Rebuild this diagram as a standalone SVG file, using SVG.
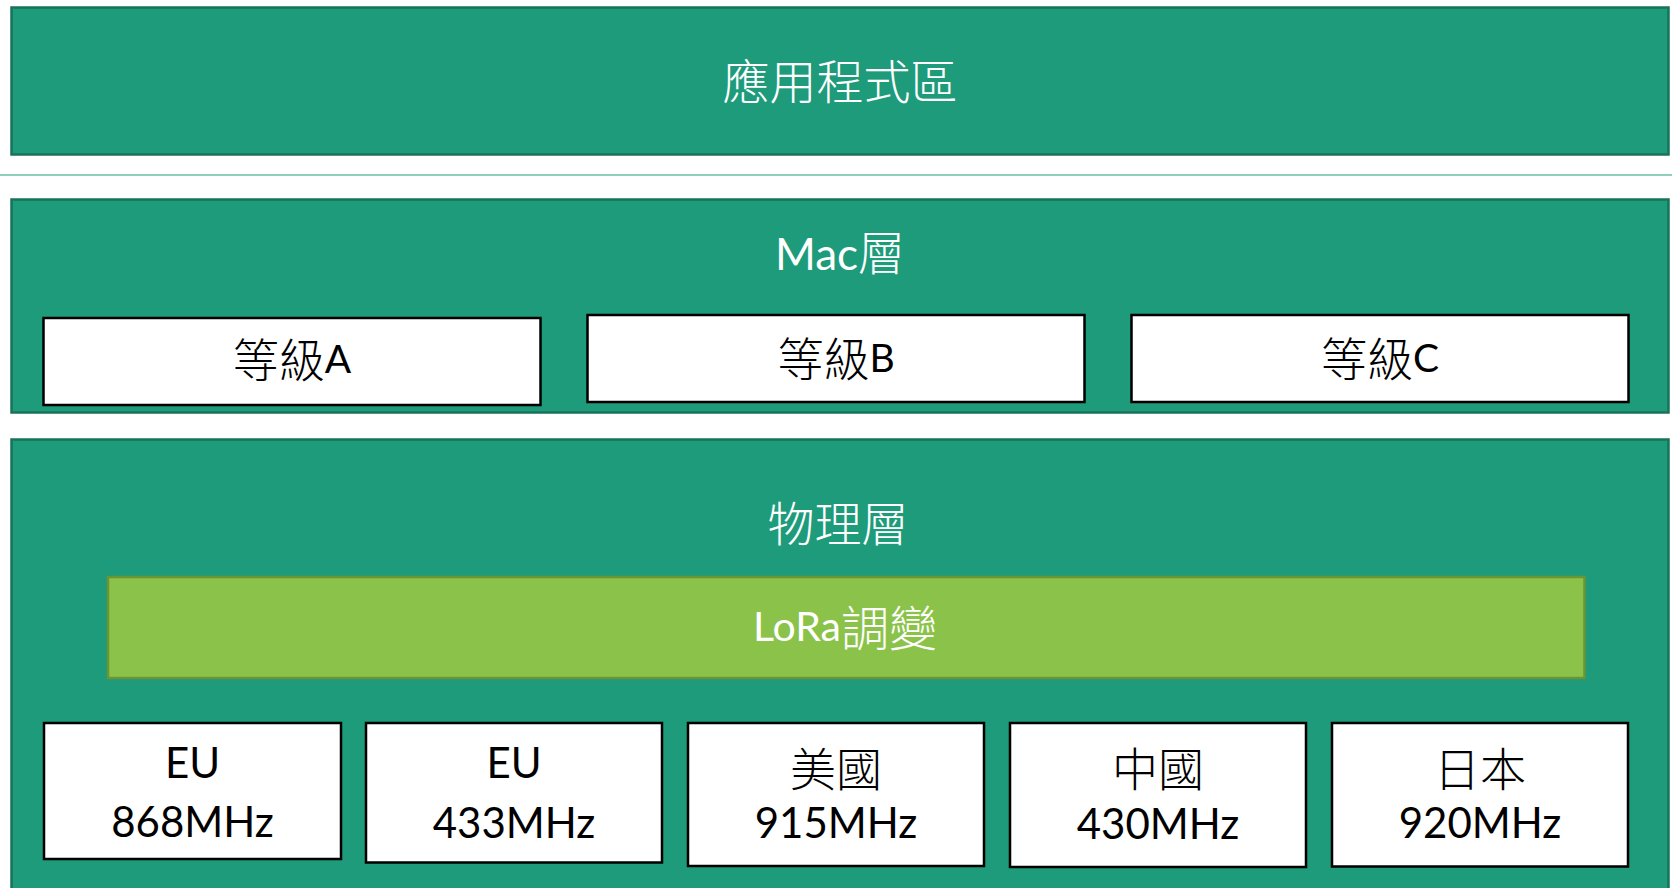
<svg xmlns="http://www.w3.org/2000/svg" width="1672" height="888" viewBox="0 0 1672 888">
<style>
.layer{fill:#1e9b7a;stroke:#17735a;stroke-width:2.5}
.box{fill:#ffffff;stroke:#000000;stroke-width:2.5}
.lora{fill:#8bc34a;stroke:#6b9435;stroke-width:2.5}
.t{text-anchor:middle}
.w{fill:#ffffff}
.k{fill:#000000}
.cjk{font-family:"Noto Sans CJK TC","Noto Sans CJK SC",sans-serif;font-weight:300}
.lat{font-family:Lato,"Liberation Sans",sans-serif}
</style>
<rect width="1672" height="888" fill="#ffffff"/>
<g id="app-layer">
<rect class="layer" x="11.5" y="7.5" width="1657" height="147"/>
<text class="t w cjk" x="840" y="99" font-size="47">應用程式區</text>
</g>
<g id="separator">
<line x1="0" y1="175" x2="1672" y2="175" stroke="#6cc0a0" stroke-width="1.5"/>
</g>
<g id="mac-layer">
<rect class="layer" x="11.5" y="199.5" width="1657" height="213"/>
<text class="t w" x="840" y="270"><tspan class="lat" font-size="44">Mac</tspan><tspan class="cjk" font-size="47">層</tspan></text>
</g>
<g id="class-a">
<rect class="box" x="43.5" y="318" width="497" height="87"/>
<text class="t k" x="292" y="377"><tspan class="cjk" font-size="46">等級</tspan><tspan class="lat" font-size="39" dy="-4">A</tspan></text>
</g>
<g id="class-b">
<rect class="box" x="587.5" y="315" width="497" height="87"/>
<text class="t k" x="836" y="376"><tspan class="cjk" font-size="46">等級</tspan><tspan class="lat" font-size="39" dy="-4">B</tspan></text>
</g>
<g id="class-c">
<rect class="box" x="1131.5" y="315" width="497" height="87"/>
<text class="t k" x="1380" y="376"><tspan class="cjk" font-size="46">等級</tspan><tspan class="lat" font-size="39" dy="-4">C</tspan></text>
</g>
<g id="phy-layer">
<rect class="layer" x="11.5" y="439.5" width="1657" height="460"/>
<text class="t w cjk" x="838" y="541" font-size="47">物理層</text>
</g>
<g id="lora">
<rect class="lora" x="108" y="577" width="1476.5" height="101"/>
<text class="t w" x="845" y="641"><tspan class="lat" font-size="41">LoRa</tspan><tspan class="cjk" font-size="48" dy="5">調變</tspan></text>
</g>
<g id="eu868">
<rect class="box" x="44" y="723" width="297" height="136"/>
<text class="t k lat" x="192.5" y="778" font-size="42">EU</text>
<text class="t k lat" x="192.5" y="837" font-size="42">868MHz</text>
</g>
<g id="eu433">
<rect class="box" x="366" y="723" width="296" height="139.5"/>
<text class="t k lat" x="514" y="778" font-size="42">EU</text>
<text class="t k lat" x="514" y="838" font-size="42">433MHz</text>
</g>
<g id="us915">
<rect class="box" x="688" y="723" width="296" height="143"/>
<text class="t k cjk" x="836" y="786" font-size="46">美國</text>
<text class="t k lat" x="836" y="838" font-size="42">915MHz</text>
</g>
<g id="cn430">
<rect class="box" x="1010" y="723" width="296" height="144"/>
<text class="t k cjk" x="1158" y="786" font-size="46">中國</text>
<text class="t k lat" x="1158" y="839" font-size="42">430MHz</text>
</g>
<g id="jp920">
<rect class="box" x="1332" y="723" width="296" height="143.5"/>
<text class="t k cjk" x="1480" y="786" font-size="46">日本</text>
<text class="t k lat" x="1480" y="838" font-size="42">920MHz</text>
</g>
<g id="connectors"></g>
</svg>
